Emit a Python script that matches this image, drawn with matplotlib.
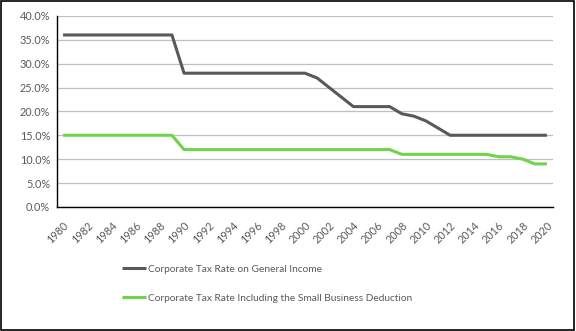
import matplotlib

matplotlib.use("Agg")
import matplotlib.pyplot as plt
from matplotlib.patches import Rectangle
from matplotlib.ticker import FuncFormatter

years = list(range(1980, 2021))
general_rate = [
    36, 36, 36, 36, 36, 36, 36, 36, 36, 36,      # 1980-1989
    28, 28, 28, 28, 28, 28, 28, 28, 28, 28, 28,  # 1990-2000
    27, 25, 23, 21, 21, 21, 21, 19.5, 19, 18, 16.5,  # 2001-2011
    15, 15, 15, 15, 15, 15, 15, 15, 15,          # 2012-2020
]
small_business_rate = [
    15, 15, 15, 15, 15, 15, 15, 15, 15, 15,      # 1980-1989
    12, 12, 12, 12, 12, 12, 12, 12, 12, 12, 12,  # 1990-2000
    12, 12, 12, 12, 12, 12, 12,                  # 2001-2007
    11, 11, 11, 11, 11, 11, 11, 11,              # 2008-2015
    10.5, 10.5, 10, 9, 9,                        # 2016-2020
]
labels = [
    "Corporate Tax Rate on General Income",
    "Corporate Tax Rate Including the Small Business Deduction",
]

plt.rcParams["font.family"] = ["Lato", "DejaVu Sans"]
text_color = "#595959"

fig = plt.figure(figsize=(5.76, 3.31), dpi=100)
ax = fig.add_axes([0.099, 0.375, 0.861, 0.577])

x = list(range(len(years)))
ax.plot(x, general_rate, color="#595959", lw=2.2, solid_capstyle="butt",
        solid_joinstyle="round", label=labels[0], zorder=3)
ax.plot(x, small_business_rate, color="#70d44b", lw=2.2, solid_capstyle="butt",
        solid_joinstyle="round", label=labels[1], zorder=3)

ax.set_xlim(-0.5, len(years) - 0.5)
ax.set_ylim(0, 40)
ax.set_yticks(range(0, 41, 5))
ax.yaxis.set_major_formatter(FuncFormatter(lambda v, _: f"{v:.1f}%"))
ax.set_xticks(x[::2])
ax.set_xticklabels([str(y) for y in years[::2]], rotation=45,
                   ha="right", va="top", rotation_mode="anchor")
ax.tick_params(axis="y", length=0, labelsize=7.8, colors=text_color, pad=5)
ax.tick_params(axis="x", length=0, labelsize=7.8, colors=text_color, pad=9)

ax.grid(axis="y", color="#bfbfbf", lw=0.9, zorder=1)
for side in ("top", "right"):
    ax.spines[side].set_visible(False)
for side in ("left", "bottom"):
    ax.spines[side].set_color("black")
    ax.spines[side].set_linewidth(1.0)

leg = fig.legend(loc="upper left", bbox_to_anchor=(0.205, 0.213), ncol=1,
                 frameon=False, fontsize=7.3, handlelength=2.4,
                 handletextpad=0.15, labelspacing=1.95, borderaxespad=0)
for t in leg.get_texts():
    t.set_color(text_color)

fig.patches.append(Rectangle((0.001, 0.002), 0.996, 0.995, transform=fig.transFigure,
                             fill=False, edgecolor="black", lw=1.2))

fig.savefig("out.png", dpi=100)
